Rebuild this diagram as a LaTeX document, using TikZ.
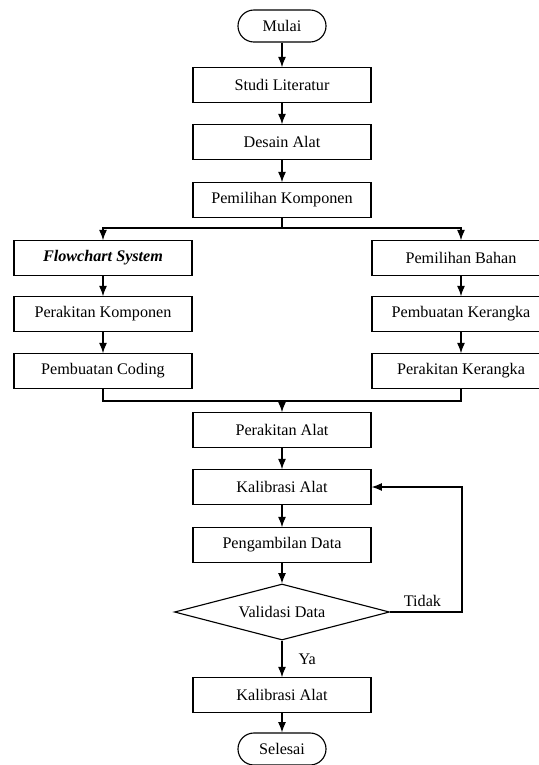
\documentclass[tikz,border=0pt]{standalone}
\usepackage{fontspec}
\setmainfont{Liberation Serif}
\usetikzlibrary{shapes.geometric,arrows.meta}

\tikzset{
  proses/.style={draw, line width=0.8pt, minimum width=4.45cm, minimum height=0.86cm, inner sep=0pt, font=\fontsize{11.5}{13}\selectfont},
  terminal/.style={draw, line width=0.8pt, rounded corners=0.4cm, minimum width=2.2cm, minimum height=0.8cm, inner sep=0pt, font=\fontsize{11.5}{13}\selectfont},
  keputusan/.style={draw, line width=0.8pt, diamond, aspect=3.8, minimum width=5.375cm, minimum height=1.4cm, inner sep=0pt, font=\fontsize{11.5}{13}\selectfont},
  alur/.style={line width=0.8pt, -{Latex[length=2.6mm,width=2mm]}},
  garis/.style={line width=0.8pt}
}

\begin{document}
\begin{tikzpicture}[x=0.025cm, y=-0.025cm]
        % Frame the picture
        \useasboundingbox (0,0) rectangle (539,765);

        % Main column
        \node[terminal] (mulai) at (282,26) {Mulai};
        \node[proses] (studi) at (282,85) {Studi Literatur};
        \node[proses] (desain) at (282,142) {Desain Alat};
        \node[proses] (pilihkomp) at (282,200) {Pemilihan Komponen};

        % Left branch
        \node[proses] (flowchart) at (103,258) {\textbf{\textit{Flowchart System}}};
        \node[proses] (rakitkomp) at (103,314) {Perakitan Komponen};
        \node[proses] (coding) at (103,371) {Pembuatan Coding};

        % Right branch
        \node[proses] (bahan) at (461,258) {Pemilihan Bahan};
        \node[proses] (kerangka) at (461,314) {Pembuatan Kerangka};
        \node[proses] (rakitkerangka) at (461,371) {Perakitan Kerangka};

        % Lower column
        \node[proses] (rakitalat) at (282,430) {Perakitan Alat};
        \node[proses] (kalibrasi) at (282,487) {Kalibrasi Alat};
        \node[proses] (ambildata) at (282,545) {Pengambilan Data};
        \node[keputusan] (validasi) at (282,612) {Validasi Data};
        \node[proses] (kalibrasiakhir) at (282,695) {Kalibrasi Alat};
        \node[terminal] (selesai) at (282,749) {Selesai};

        % Junction points
        \coordinate (pisah) at (282,228);
        \coordinate (gabung) at (282,401);
        \coordinate (ulang) at (462,612);

        % Arrows
        \draw[alur] (mulai) -- (studi);
        \draw[alur] (studi) -- (desain);
        \draw[alur] (desain) -- (pilihkomp);
        \draw[garis] (pilihkomp) -- (pisah);
        \draw[alur] (pisah) -| (flowchart);
        \draw[alur] (pisah) -| (bahan);
        \draw[alur] (flowchart) -- (rakitkomp);
        \draw[alur] (rakitkomp) -- (coding);
        \draw[alur] (bahan) -- (kerangka);
        \draw[alur] (kerangka) -- (rakitkerangka);
        \draw[garis] (coding) |- (gabung);
        \draw[garis] (rakitkerangka) |- (gabung);
        \draw[alur] (gabung) -- (rakitalat);
        \draw[alur] (rakitalat) -- (kalibrasi);
        \draw[alur] (kalibrasi) -- (ambildata);
        \draw[alur] (ambildata) -- (validasi);
        \draw[alur] (validasi.east) -- (ulang) node[pos=0.45, above, font=\fontsize{11.5}{13}\selectfont] {Tidak} |- (kalibrasi.east);
        \draw[alur] (validasi.south) -- (kalibrasiakhir) node[midway, right=8pt, font=\fontsize{11.5}{13}\selectfont] {Ya};
        \draw[alur] (kalibrasiakhir) -- (selesai);

    \end{tikzpicture}
\end{document}
